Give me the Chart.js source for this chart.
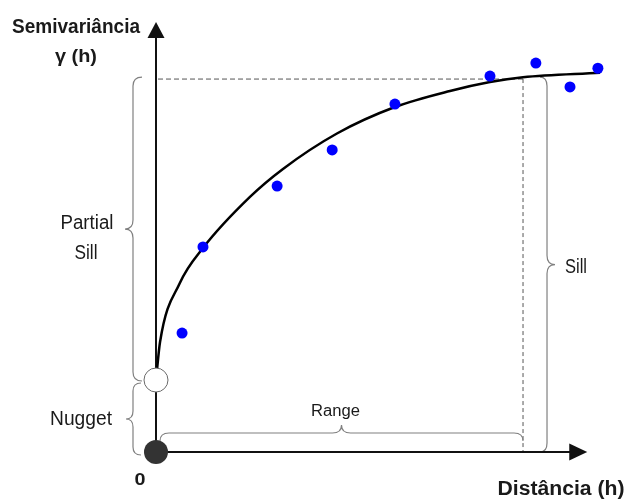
<!DOCTYPE html>
<html>
<head>
<meta charset="utf-8">
<script src="https://cdn.jsdelivr.net/npm/chart.js@4.4.0/dist/chart.umd.min.js"></script>
<style>
  html, body { margin: 0; padding: 0; background: #fff; }
  canvas { display: block; }
</style>
</head>
<body>
<canvas id="semivariogram" width="625" height="502"></canvas>
<script>
"use strict"

// experimental semivariogram points (lag distance h, gamma)
const lagDistances = [0.71, 1.28, 3.30, 4.80, 6.51, 9.10, 10.35, 11.28, 12.04];
const semivariances = [3.19, 5.50, 7.13, 8.10, 9.33, 10.08, 10.43, 9.79, 10.29];

// fitted model curve
const modelDistances = [0, 0.11, 0.65, 1.28, 2.56, 3.46, 4.93, 6.51, 8.01, 9.10, 10.00, 12.10];
const modelValues = [1.93, 2.95, 4.53, 5.47, 6.84, 7.59, 8.54, 9.25, 9.68, 9.92, 10.05, 10.17];

// model parameters
const nugget = 1.93;
const sill = 10;
const range = 10;

// axis extents
const xMax = 12.37;
const yMax = 11.53;
const xAxisEnd = 11.75;

const FONT = '"Liberation Sans", Arial, sans-serif';


// text squeezed to the width it has in the drawing
const drawLabel = (ctx, text, cx, baseline, size, bold, width) => {
    ctx.save();
    ctx.font = `${bold ? 'bold ' : ''}${size}px ${FONT}`;
    const natural = ctx.measureText(text).width;
    ctx.translate(cx, baseline);
    ctx.scale(width / natural, 1);
    ctx.textAlign = 'center';
    ctx.textBaseline = 'alphabetic';
    ctx.fillStyle = '#1a1a1a';
    ctx.fillText(text, 0, 0);
    ctx.restore();
};

// curly brace standing up, tip pointing left or right
const vBrace = (ctx, xEnd, xShaft, xTip, y1, y2, r) => {
    const yTip = (y1 + y2) / 2;
    ctx.beginPath();
    ctx.moveTo(xEnd, y1);
    ctx.quadraticCurveTo(xShaft, y1, xShaft, y1 + r);
    ctx.lineTo(xShaft, yTip - r);
    ctx.quadraticCurveTo(xShaft, yTip, xTip, yTip);
    ctx.quadraticCurveTo(xShaft, yTip, xShaft, yTip + r);
    ctx.lineTo(xShaft, y2 - r);
    ctx.quadraticCurveTo(xShaft, y2, xEnd, y2);
    ctx.stroke();
};

// curly brace lying down, tip pointing up
const hBrace = (ctx, yEnd, yShaft, yTip, x1, x2, r) => {
    const xTip = (x1 + x2) / 2;
    ctx.beginPath();
    ctx.moveTo(x1, yEnd);
    ctx.quadraticCurveTo(x1, yShaft, x1 + r, yShaft);
    ctx.lineTo(xTip - r, yShaft);
    ctx.quadraticCurveTo(xTip, yShaft, xTip, yTip);
    ctx.quadraticCurveTo(xTip, yShaft, xTip + r, yShaft);
    ctx.lineTo(x2 - r, yShaft);
    ctx.quadraticCurveTo(x2, yShaft, x2, yEnd);
    ctx.stroke();
};


// axes, guide lines, braces and labels of the diagram
const diagramPlugin = {
    id: 'diagram',
    beforeDatasetsDraw(chart) {
        const ctx = chart.ctx;
        const xs = chart.scales.x;
        const ys = chart.scales.y;
        const x0 = xs.getPixelForValue(0);
        const y0 = ys.getPixelForValue(0);
        const xRange = xs.getPixelForValue(range);
        const ySill = ys.getPixelForValue(sill);
        const yNugget = ys.getPixelForValue(nugget);
        const xEnd = xs.getPixelForValue(xAxisEnd);
        const yTop = ys.getPixelForValue(yMax);

        ctx.save();

        // sill and range guide lines
        ctx.strokeStyle = '#555';
        ctx.lineWidth = 1;
        ctx.setLineDash([5, 3]);
        ctx.beginPath();
        ctx.moveTo(x0 + 2, ySill);
        ctx.lineTo(xRange, ySill);
        ctx.stroke();
        ctx.setLineDash([4, 3]);
        ctx.beginPath();
        ctx.moveTo(xRange, ySill);
        ctx.lineTo(xRange, y0);
        ctx.stroke();
        ctx.setLineDash([]);

        // braces
        ctx.strokeStyle = '#808080';
        ctx.lineWidth = 1.2;
        vBrace(ctx, x0 - 14, x0 - 23, x0 - 31, ySill - 2, yNugget + 1, 9);
        vBrace(ctx, x0 - 15, x0 - 23, x0 - 30, yNugget + 3, y0 + 3, 8);
        hBrace(ctx, y0 - 11, y0 - 19, y0 - 27, x0 + 4, xRange, 9);
        vBrace(ctx, xRange + 17, xRange + 24, xRange + 32, ySill - 2, y0, 9);

        // axes with arrow heads
        ctx.strokeStyle = '#111';
        ctx.fillStyle = '#111';
        ctx.lineWidth = 2;
        ctx.beginPath();
        ctx.moveTo(x0, y0);
        ctx.lineTo(x0, yTop + 14);
        ctx.moveTo(x0, y0);
        ctx.lineTo(xEnd - 16, y0);
        ctx.stroke();
        ctx.beginPath();
        ctx.moveTo(x0, yTop);
        ctx.lineTo(x0 - 8.5, yTop + 16);
        ctx.lineTo(x0 + 8.5, yTop + 16);
        ctx.closePath();
        ctx.fill();
        ctx.beginPath();
        ctx.moveTo(xEnd, y0);
        ctx.lineTo(xEnd - 18, y0 - 8.5);
        ctx.lineTo(xEnd - 18, y0 + 8.5);
        ctx.closePath();
        ctx.fill();

        ctx.restore();
    },
    afterDatasetsDraw(chart) {
        const ctx = chart.ctx;
        const xs = chart.scales.x;
        const ys = chart.scales.y;
        const x0 = xs.getPixelForValue(0);
        const y0 = ys.getPixelForValue(0);
        const xRange = xs.getPixelForValue(range);
        const ySill = ys.getPixelForValue(sill);
        const yNugget = ys.getPixelForValue(nugget);

        ctx.save();

        // nugget marker (open) and origin (filled)
        ctx.beginPath();
        ctx.arc(x0, yNugget, 12, 0, Math.PI * 2);
        ctx.fillStyle = '#fff';
        ctx.fill();
        ctx.strokeStyle = '#6a6a6a';
        ctx.lineWidth = 1;
        ctx.stroke();

        ctx.beginPath();
        ctx.arc(x0, y0, 12, 0, Math.PI * 2);
        ctx.fillStyle = '#333';
        ctx.fill();

        ctx.restore();

        // labels
        drawLabel(ctx, 'Semivariância', x0 - 80, 33, 20, true, 128);
        drawLabel(ctx, 'γ (h)', x0 - 80, 62, 19, true, 42);
        drawLabel(ctx, 'Partial', x0 - 69, (ySill + yNugget) / 2 - 1, 20, false, 53);
        drawLabel(ctx, 'Sill', x0 - 70, (ySill + yNugget) / 2 + 29, 20, false, 23);
        drawLabel(ctx, 'Nugget', x0 - 75, y0 - 27, 20, false, 62);
        drawLabel(ctx, '0', x0 - 16, y0 + 33, 17, true, 11);
        drawLabel(ctx, 'Range', (x0 + xRange) / 2 - 4, y0 - 36, 16, false, 49);
        drawLabel(ctx, 'Sill', xRange + 53, (ySill + y0) / 2 + 7, 20, false, 22);
        drawLabel(ctx, 'Distância (h)', 561, y0 + 43, 20, true, 127);
    }
};


const ctx = document.getElementById('semivariogram');

new Chart(ctx, {
    type: 'scatter',
    data: {
        datasets: [{
            label: 'Experimental',
            data: lagDistances.map((h, i) => ({ x: h, y: semivariances[i] })),
            backgroundColor: '#0000ff',
            borderWidth: 0,
            pointRadius: 5.5,
            clip: false,
        },
        {
            label: 'Model',
            data: modelDistances.map((h, i) => ({ x: h, y: modelValues[i] })),
            showLine: true,
            borderColor: '#000',
            borderWidth: 2.5,
            pointRadius: 0,
            cubicInterpolationMode: 'monotone',
            fill: false,
            clip: false,
        },
        ]
    },
    options: {
        responsive: false,
        animation: false,
        layout: {
            padding: { left: 156, right: 15, top: 22, bottom: 50 }
        },
        scales: {
            x: { type: 'linear', min: 0, max: xMax, display: false },
            y: { type: 'linear', min: 0, max: yMax, display: false }
        },
        plugins: {
            legend: { display: false },
            tooltip: { enabled: false }
        }
    },
    plugins: [diagramPlugin]
});
</script>
</body>
</html>
